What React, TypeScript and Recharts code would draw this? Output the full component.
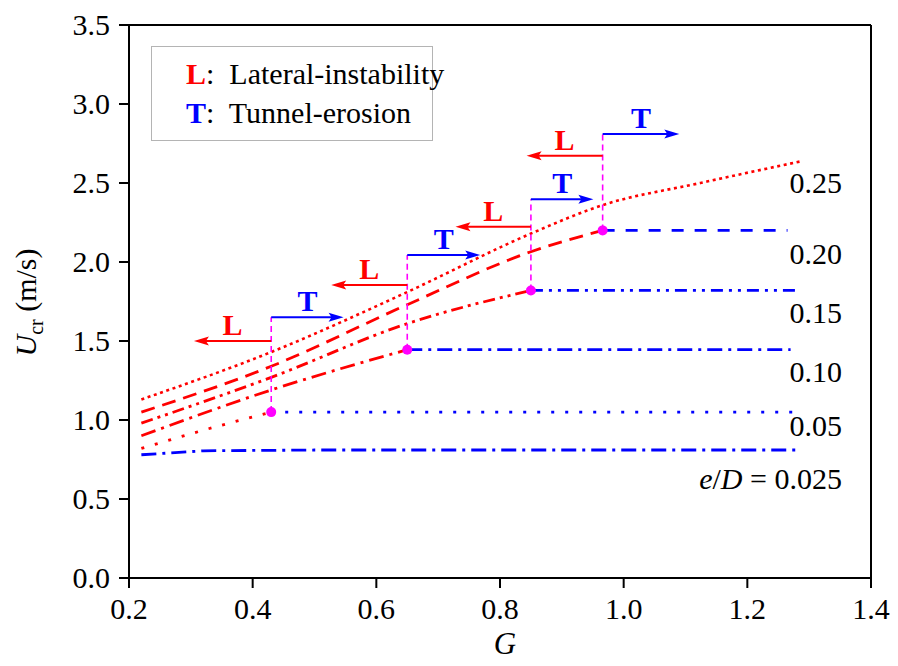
import React from 'react';
import {
  ComposedChart, Line, XAxis, YAxis, Scatter, ReferenceLine, ReferenceDot, Legend,
} from 'recharts';

const FONT = '"Liberation Serif", "Times New Roman", Times, serif';
const RED = '#ff0000';
const BLUE = '#0000ff';
const MAG = '#ff00ff';
const THIN = 0.001;

// axis ticks
const xMajor = [0.2, 0.4, 0.6, 0.8, 1.0, 1.2, 1.4];
const xMinor = [0.3, 0.5, 0.7, 0.9, 1.1, 1.3];
const yMajor = [0, 0.5, 1.0, 1.5, 2.0, 2.5, 3.0, 3.5];
const yMinor = [0.1, 0.2, 0.3, 0.4, 0.6, 0.7, 0.8, 0.9, 1.1, 1.2, 1.3, 1.4, 1.6, 1.7, 1.8, 1.9,
  2.1, 2.2, 2.3, 2.4, 2.6, 2.7, 2.8, 2.9, 3.1, 3.2, 3.3, 3.4];

// lateral-instability branches (red)
const lat005 = [{ g: 0.22, u: 0.82 }, { g: 0.32, u: 0.935 }, { g: 0.43, u: 1.05 }];
const lat010 = [{ g: 0.22, u: 0.9 }, { g: 0.43, u: 1.19 }, { g: 0.65, u: 1.445 }];
const lat015 = [{ g: 0.22, u: 0.98 }, { g: 0.43, u: 1.27 }, { g: 0.65, u: 1.61 }, { g: 0.85, u: 1.82 }];
const lat020 = [{ g: 0.22, u: 1.05 }, { g: 0.43, u: 1.34 }, { g: 0.65, u: 1.73 }, { g: 0.85, u: 2.065 }, { g: 0.966, u: 2.2 }];
const lat025 = [{ g: 0.22, u: 1.13 }, { g: 0.43, u: 1.43 }, { g: 0.65, u: 1.81 }, { g: 0.85, u: 2.18 }, { g: 0.966, u: 2.36 }, { g: 1.124, u: 2.5 }, { g: 1.29, u: 2.64 }];

// tunnel-erosion branches (blue)
const tun0025 = [{ g: 0.22, u: 0.78 }, { g: 0.32, u: 0.805 }, { g: 0.5, u: 0.81 }, { g: 1.28, u: 0.81 }];
const tun005 = [{ g: 0.43, u: 1.05 }, { g: 1.29, u: 1.05 }];
const tun010 = [{ g: 0.65, u: 1.445 }, { g: 1.27, u: 1.445 }];
const tun015 = [{ g: 0.85, u: 1.82 }, { g: 1.285, u: 1.82 }];
const tun020 = [{ g: 0.966, u: 2.2 }, { g: 1.265, u: 2.2 }];

// transition points
const transG = [0.43, 0.65, 0.85, 0.966];
const transU = [1.05, 1.445, 1.82, 2.2];
const lArrowU = [1.5, 1.855, 2.223, 2.673];
const lArrowTip = [0.305, 0.527, 0.728, 0.843];
const tArrowU = [1.65, 2.044, 2.397, 2.81];
const tArrowTip = [0.547, 0.768, 0.951, 1.09];

const transPts = transG.map((g, i) => ({ g, u: transU[i] }));

// curve labels (e/D)
const curveLabelText = ['0.25', '0.20', '0.15', '0.10', '0.05', '0.025'];
const curveLabelU = [2.5, 2.05, 1.677, 1.306, 0.964, 0.627];
const curveLabelG = 1.353;

const txtStyle = { fontFamily: FONT };

const arrowShape = (color: string) => (p: any) => {
  const { x1, y1, x2, y2 } = p;
  const dir = Math.sign(x2 - x1) || 1;
  const len = 15;
  const hw = 4.5;
  return (
    <g>
      <line x1={x1} y1={y1} x2={x2 - dir * len * 0.5} y2={y2} stroke={color} strokeWidth={2} />
      <polygon
        points={`${x2},${y2} ${x2 - dir * len},${y2 - hw} ${x2 - dir * len * 0.8},${y2} ${x2 - dir * len},${y2 + hw}`}
        fill={color}
      />
    </g>
  );
};

const arrowLabel = (text: string, color: string) => (p: any) => {
  const vb = p.viewBox;
  return (
    <text
      x={vb.x + vb.width / 2}
      y={vb.y - 6}
      textAnchor="middle"
      fontSize={30}
      fontWeight="bold"
      fill={color}
      style={txtStyle}
    >
      {text}
    </text>
  );
};

const XTick = (p: any) => (
  <text x={p.x} y={p.y} dy="0.71em" textAnchor="middle" fontSize={30} fill="#000" style={txtStyle}>
    {Number(p.payload.value).toFixed(1)}
  </text>
);
const YTick = (p: any) => (
  <text x={p.x} y={p.y} dy="0.34em" textAnchor="end" fontSize={30} fill="#000" style={txtStyle}>
    {Number(p.payload.value).toFixed(1)}
  </text>
);

const axisStroke = { stroke: '#000', strokeWidth: 2 };

const LegendBox = () => (
  <div
    style={{
      boxSizing: 'border-box',
      width: 282,
      height: 95,
      border: '1.5px solid #b4b4b4',
      background: '#fff',
      fontFamily: FONT,
      fontSize: 30,
      lineHeight: '39px',
      paddingTop: 7,
      paddingLeft: 34,
      color: '#000',
      whiteSpace: 'pre',
    }}
  >
    <div>
      <span style={{ color: RED, fontWeight: 'bold' }}>L</span>
      <span>:  Lateral-instability</span>
    </div>
    <div>
      <span style={{ color: BLUE, fontWeight: 'bold' }}>T</span>
      <span>:  Tunnel-erosion</span>
    </div>
  </div>
);

export default function App() {
  const redLines = [
    { data: lat025, dash: '3 3.6', w: 2.6 },
    { data: lat020, dash: '14 8', w: 2.8 },
    { data: lat015, dash: '12 5 3 5 3 5', w: 2.8 },
    { data: lat010, dash: '15 6 3 6', w: 2.8 },
    { data: lat005, dash: '3 11', w: 2.8 },
  ];
  const blueLines = [
    { data: tun020, dash: '12 11', w: 2.8 },
    { data: tun015, dash: '12 6 3 6 3 6', w: 2.8 },
    { data: tun010, dash: '15 6 3 6', w: 2.8 },
    { data: tun005, dash: '3 11', w: 2.8 },
    { data: tun0025, dash: '15 6 3 6', w: 2.8 },
  ];

  return (
    <ComposedChart
      width={882}
      height={658}
      margin={{ top: 17, right: 19, bottom: 88, left: 121 }}
      style={{ fontFamily: FONT }}
    >
      <XAxis
        xAxisId="b"
        type="number"
        dataKey="g"
        domain={[0.2, 1.4]}
        ticks={xMajor}
        interval={0}
        allowDataOverflow
        height={THIN}
        tickSize={10}
        tickMargin={10}
        axisLine={axisStroke}
        tickLine={axisStroke}
        tick={<XTick />}
        label={{
          content: (p: any) => {
            const vb = p.viewBox;
            return (
              <text
                x={vb.x + vb.width / 2 + 5}
                y={vb.y + 76}
                textAnchor="middle"
                fontSize={31}
                fontStyle="italic"
                fill="#000"
                style={txtStyle}
              >
                G
              </text>
            );
          },
        }}
      />
      <XAxis xAxisId="bm" type="number" dataKey="g" domain={[0.2, 1.4]} ticks={xMinor} interval={0}
        height={THIN} tickSize={5} axisLine={false} tickLine={axisStroke} tick={false} />
      <XAxis xAxisId="t" orientation="top" mirror type="number" dataKey="g" domain={[0.2, 1.4]} ticks={xMajor}
        interval={0} height={THIN} tickSize={10} axisLine={axisStroke} tickLine={axisStroke} tick={false} />
      <XAxis xAxisId="tm" orientation="top" mirror type="number" dataKey="g" domain={[0.2, 1.4]} ticks={xMinor}
        interval={0} height={THIN} tickSize={5} axisLine={false} tickLine={axisStroke} tick={false} />

      <YAxis
        yAxisId="l"
        type="number"
        dataKey="u"
        domain={[0, 3.5]}
        ticks={yMajor}
        interval={0}
        allowDataOverflow
        width={THIN}
        tickSize={10}
        tickMargin={9}
        axisLine={axisStroke}
        tickLine={axisStroke}
        tick={<YTick />}
        label={{
          content: (p: any) => {
            const vb = p.viewBox;
            const cx = vb.x - 93;
            const cy = vb.y + vb.height / 2 + 1;
            return (
              <text
                x={cx}
                y={cy}
                transform={`rotate(-90 ${cx} ${cy})`}
                textAnchor="middle"
                fontSize={30}
                fill="#000"
                style={txtStyle}
              >
                <tspan fontStyle="italic">U</tspan>
                <tspan fontSize={20} dy={7}>cr</tspan>
                <tspan dy={-7}> (m/s)</tspan>
              </text>
            );
          },
        }}
      />
      <YAxis yAxisId="lm" type="number" domain={[0, 3.5]} ticks={yMinor} interval={0} width={THIN}
        tickSize={5} axisLine={false} tickLine={axisStroke} tick={false} />
      <YAxis yAxisId="r" orientation="right" mirror type="number" domain={[0, 3.5]} ticks={yMajor} interval={0}
        width={THIN} tickSize={10} axisLine={axisStroke} tickLine={axisStroke} tick={false} />
      <YAxis yAxisId="rm" orientation="right" mirror type="number" domain={[0, 3.5]} ticks={yMinor} interval={0}
        width={THIN} tickSize={5} axisLine={false} tickLine={axisStroke} tick={false} />

      {blueLines.map((s, i) => (
        <Line
          key={`b${i}`}
          xAxisId="b"
          yAxisId="l"
          data={s.data}
          dataKey="u"
          type="linear"
          stroke={BLUE}
          strokeWidth={s.w}
          strokeDasharray={s.dash}
          dot={false}
          activeDot={false}
          isAnimationActive={false}
        />
      ))}
      {redLines.map((s, i) => (
        <Line
          key={`r${i}`}
          xAxisId="b"
          yAxisId="l"
          data={s.data}
          dataKey="u"
          type="monotone"
          stroke={RED}
          strokeWidth={s.w}
          strokeDasharray={s.dash}
          dot={false}
          activeDot={false}
          isAnimationActive={false}
        />
      ))}

      {transG.map((g, i) => (
        <ReferenceLine
          key={`v${i}`}
          xAxisId="b"
          yAxisId="l"
          segment={[{ x: g, y: transU[i] }, { x: g, y: tArrowU[i] }]}
          stroke={MAG}
          strokeWidth={1.6}
          strokeDasharray="6 4"
        />
      ))}
      {transG.map((g, i) => (
        <ReferenceLine
          key={`la${i}`}
          xAxisId="b"
          yAxisId="l"
          segment={[{ x: g, y: lArrowU[i] }, { x: lArrowTip[i], y: lArrowU[i] }]}
          stroke={RED}
          shape={arrowShape(RED)}
          label={{ content: arrowLabel('L', RED) }}
        />
      ))}
      {transG.map((g, i) => (
        <ReferenceLine
          key={`ta${i}`}
          xAxisId="b"
          yAxisId="l"
          segment={[{ x: g, y: tArrowU[i] }, { x: tArrowTip[i], y: tArrowU[i] }]}
          stroke={BLUE}
          shape={arrowShape(BLUE)}
          label={{ content: arrowLabel('T', BLUE) }}
        />
      ))}

      <Scatter
        xAxisId="b"
        yAxisId="l"
        data={transPts}
        dataKey="u"
        fill={MAG}
        isAnimationActive={false}
        shape={(p: any) => <circle cx={p.cx} cy={p.cy} r={5} fill={MAG} />}
      />

      {curveLabelText.map((t, i) => (
        <ReferenceDot
          key={`cl${i}`}
          xAxisId="b"
          yAxisId="l"
          x={curveLabelG}
          y={curveLabelU[i]}
          r={0}
          fill="none"
          stroke="none"
          label={{
            content: (p: any) => {
              const vb = p.viewBox;
              return (
                <text
                  x={vb.x}
                  y={vb.y}
                  dy="0.34em"
                  textAnchor="end"
                  fontSize={30}
                  fill="#000"
                  style={txtStyle}
                >
                  {i === curveLabelText.length - 1 ? (
                    <>
                      <tspan fontStyle="italic">e</tspan>
                      <tspan>/</tspan>
                      <tspan fontStyle="italic">D</tspan>
                      <tspan>{` = ${t}`}</tspan>
                    </>
                  ) : t}
                </text>
              );
            },
          }}
        />
      ))}

      <Legend
        layout="horizontal"
        verticalAlign="middle"
        align="center"
        wrapperStyle={{ left: 143, top: 38, width: 282, height: 95 }}
        content={() => <LegendBox />}
      />
    </ComposedChart>
  );
}
